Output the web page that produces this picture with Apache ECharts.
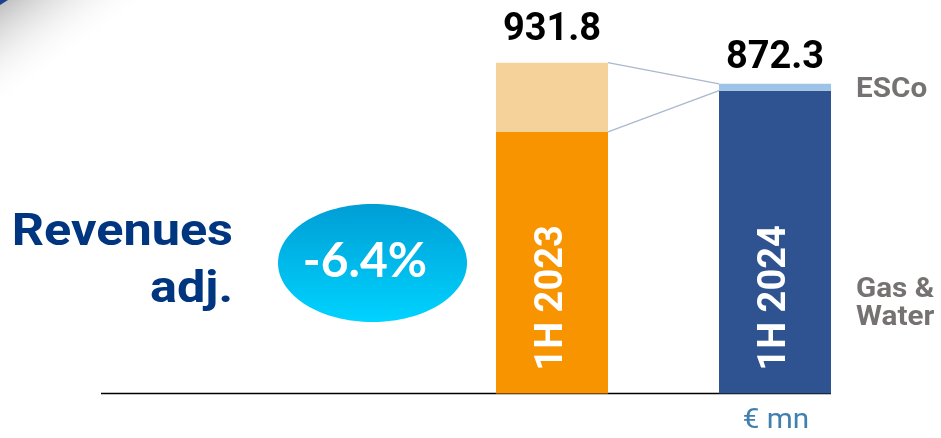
<!DOCTYPE html>
<html>
<head>
<meta charset="utf-8">
<script src="https://cdn.jsdelivr.net/npm/echarts@6/dist/echarts.min.js"></script>
<style>
html,body{margin:0;padding:0;background:#fff;}
#c{width:941px;height:438px;}
</style>
</head>
<body>
<div id="c"></div>
<script>
// ---- data ----
const categories = ['1H 2023', '1H 2024'];
const gasWater = [736.9, 853.0];
const esco = [194.9, 19.3];
const totals = [931.8, 872.3];
const changeText = '-6.4%';
const unitText = '€ mn';
const segmentLabels = ['ESCo', 'Gas &\nWater'];
const titleLines = ['Revenues', 'adj.'];

// ---- styles ----
const gasColors = ['#F79400', '#2F5390'];
const escoColors = ['#F4D29A', '#9DC3E6'];
const totalLabelGap = [13, 6];
const BW = 112;

const chart = echarts.init(document.getElementById('c'), null, {renderer: 'canvas'});

chart.setOption({
  animation: false,
  backgroundColor: '#ffffff',
  grid: {left: 440.5, right: 54.5, top: 38.5, bottom: 44.5},
  xAxis: {
    type: 'category', data: categories,
    axisLine: {show: false}, axisTick: {show: false}, axisLabel: {show: false}
  },
  yAxis: {
    type: 'value', min: 0, max: 1000,
    show: false, splitLine: {show: false}
  },
  series: [
    {
      name: 'Gas & Water', type: 'bar', stack: 'rev', barWidth: BW,
      data: gasWater,
      itemStyle: {color: p => gasColors[p.dataIndex]},
      label: {
        show: true, position: 'insideBottom', rotate: 90, distance: 23,
        align: 'left', verticalAlign: 'middle',
        formatter: p => p.name,
        color: '#ffffff', fontFamily: 'Roboto', fontWeight: 'bold', fontSize: 38
      }
    },
    {
      name: 'ESCo', type: 'bar', stack: 'rev', barWidth: BW,
      data: esco.map((v, i) => ({value: v, label: {distance: totalLabelGap[i]}})),
      itemStyle: {color: p => escoColors[p.dataIndex]},
      label: {
        show: true, position: 'top',
        formatter: p => totals[p.dataIndex].toFixed(1),
        color: '#000000', fontFamily: 'Roboto', fontWeight: 'bold', fontSize: 38
      }
    }
  ]
});

// derived positions for connectors and axis line
const px = (i, v) => chart.convertToPixel({gridIndex: 0}, [i, v]);
const a0 = px(0, totals[0]), a1 = px(1, totals[1]);
const g0 = px(0, gasWater[0]), g1 = px(1, gasWater[1]);
const base = px(1, 0);
const r0 = a0[0] + BW / 2, l1 = a1[0] - BW / 2, r1 = a1[0] + BW / 2;

const graphics = [
  // corner decoration
  {
    type: 'polygon', silent: true,
    shape: {points: [[0, 0], [150, 0], [0, 110]]},
    style: {fill: new echarts.graphic.LinearGradient(0, 0, 52, 72, [
      {offset: 0, color: '#bcbcbc'}, {offset: 1, color: 'rgba(255,255,255,0)'}
    ], true)}
  },
  {
    type: 'polygon', silent: true,
    shape: {points: [[0, 0], [8, 0], [0, 5]]},
    style: {fill: '#1F3F8F'}
  },
  // axis baseline
  {
    type: 'line', silent: true,
    shape: {x1: 101, y1: base[1], x2: r1, y2: base[1]},
    style: {stroke: '#000', lineWidth: 1.6}
  },
  // connectors
  {
    type: 'line', silent: true,
    shape: {x1: r0, y1: a0[1], x2: l1, y2: a1[1]},
    style: {stroke: '#A9B8CD', lineWidth: 1.2}
  },
  {
    type: 'line', silent: true,
    shape: {x1: r0, y1: g0[1], x2: l1, y2: g1[1]},
    style: {stroke: '#A9B8CD', lineWidth: 1.2}
  },
  // title
  {
    type: 'text', x: 233, y: 234, scaleX: 1.12, silent: true,
    style: {text: titleLines[0], align: 'right', verticalAlign: 'middle',
      fill: '#00357F', font: 'bold 45px Roboto'}
  },
  {
    type: 'text', x: 233, y: 291, scaleX: 1.12, silent: true,
    style: {text: titleLines[1], align: 'right', verticalAlign: 'middle',
      fill: '#00357F', font: 'bold 45px Roboto'}
  },
  // change bubble
  {
    type: 'ellipse', silent: true,
    shape: {cx: 372.5, cy: 263, rx: 94.5, ry: 59},
    style: {fill: new echarts.graphic.LinearGradient(0, 0, 0, 1, [
      {offset: 0, color: '#009ED5'}, {offset: 1, color: '#00D3FF'}
    ])}
  },
  {
    type: 'text', x: 365, y: 262, silent: true,
    style: {text: changeText, align: 'center', verticalAlign: 'middle',
      fill: '#ffffff', font: 'bold 48px Lato'}
  },
  // segment labels
  {
    type: 'text', x: 856, y: 90, scaleX: 1.06, silent: true,
    style: {text: segmentLabels[0], align: 'left', verticalAlign: 'middle',
      fill: '#767272', font: 'bold 28px Roboto'}
  },
  {
    type: 'text', x: 856, y: 304, scaleX: 1.06, silent: true,
    style: {text: segmentLabels[1], align: 'left', verticalAlign: 'middle',
      fill: '#767272', font: 'bold 28px Roboto', lineHeight: 28}
  },
  // unit
  {
    type: 'text', x: 776, y: 421, scaleX: 1.1, silent: true,
    style: {text: unitText, align: 'center', verticalAlign: 'middle',
      fill: '#4180AE', font: '27px Roboto'}
  }
];

chart.setOption({graphic: graphics});
</script>
</body>
</html>
